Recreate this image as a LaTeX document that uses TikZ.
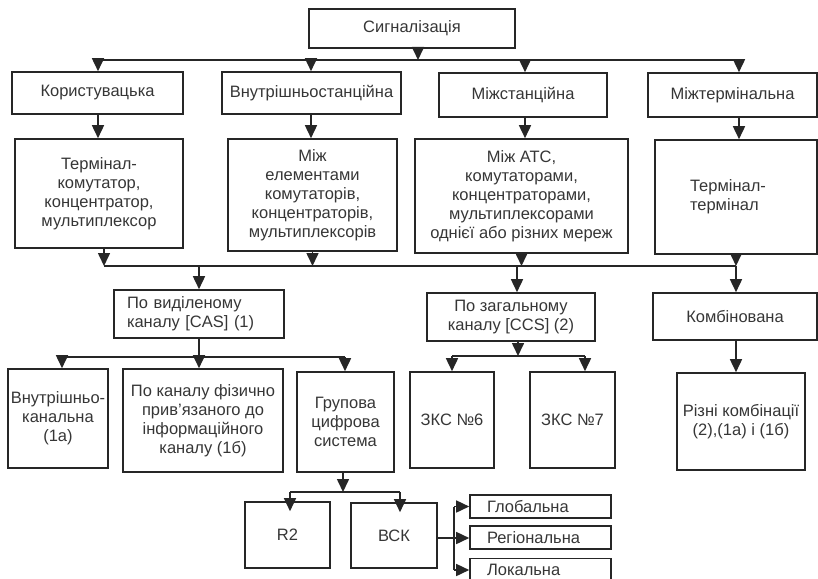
\documentclass[tikz,border=0pt]{standalone}
\usepackage{fontspec}
\setmainfont{Liberation Sans}
\usetikzlibrary{arrows.meta}
\usetikzlibrary{positioning}
\definecolor{linegray}{HTML}{262626}
\definecolor{textgray}{HTML}{363636}
\tikzstyle{block} = [draw=linegray, rectangle, line width=1.6pt, text=textgray,
 inner sep=0pt, align=center, font=\fontsize{16.5pt}{19pt}\selectfont]
\tikzstyle{arrow} = [draw=linegray, line width=1.6pt, -{Triangle[length=13pt, width=12pt]}]
\tikzstyle{line} = [draw=linegray, line width=1.6pt, -]

\begin{document}
\begin{tikzpicture}[x=1pt, y=-1pt]
 	\useasboundingbox (0,0) rectangle (818,578);
 	\clip (0,0) rectangle (818,578);
 	
 	% kinds of signalling
 	\node [block, minimum width=206, minimum height=39] (sig) at (412,28.5) {Сигналізація};
 	\node [block, minimum width=171, minimum height=42] (user) at (97.5,93) {Користувацька};
 	\node [block, minimum width=179, minimum height=42] (intra) at (311.5,93) {Внутрішньостанційна};
 	\node [block, minimum width=168, minimum height=44] (inter) at (523,95) {Міжстанційна};
 	\node [block, minimum width=169, minimum height=44] (term) at (732.5,95) {Міжтермінальна};
 	
 	\node [block, minimum width=168, minimum height=109] (ut) at (99,193.5)
 	  {Термінал-\\комутатор,\\концентратор,\\мультиплексор};
 	\node [block, minimum width=169, minimum height=112] (ie) at (312.5,195)
 	  {Між\\елементами\\комутаторів,\\концентраторів,\\мультиплексорів};
 	\node [block, minimum width=213, minimum height=114] (atc) at (521.5,196)
 	  {Між АТС,\\комутаторами,\\концентраторами,\\мультиплексорами\\однієї або різних мереж};
 	\node [block, minimum width=162, minimum height=114, text width=92, align=left] (tt) at (736,197)
 	  {Термінал-\\термінал};
 	
 	% channel types
 	\node [block, minimum width=170, minimum height=48, text width=144, align=left] (cas) at (199,314)
 	  {По виділеному\\каналу [CAS] (1)};
 	\node [block, minimum width=168, minimum height=48] (ccs) at (511,317)
 	  {По загальному\\каналу [CCS] (2)};
 	\node [block, minimum width=164, minimum height=47] (comb) at (735,316.5) {Комбінована};
 	
 	\node [block, minimum width=100, minimum height=99] (inch) at (58,418.5)
 	  {Внутрішньо-\\канальна\\(1а)};
 	\node [block, minimum width=160, minimum height=103] (phys) at (203,420.5)
 	  {По каналу фізично\\прив'язаного до\\інформаційного\\каналу (1б)};
 	\node [block, minimum width=97, minimum height=100] (grp) at (345.5,422)
 	  {Групова\\цифрова\\система};
 	\node [block, minimum width=84, minimum height=96] (zks6) at (452,420) {ЗКС №6};
 	\node [block, minimum width=85, minimum height=96] (zks7) at (572.5,420) {ЗКС №7};
 	\node [block, minimum width=128, minimum height=97] (mix) at (741,421.5)
 	  {Різні комбінації\\(2),(1а) і (1б)};
 	
 	\node [block, minimum width=85, minimum height=66] (r2) at (287.5,535) {R2};
 	\node [block, minimum width=86, minimum height=65] (bsk) at (394,535.5) {ВСК};
 	\node [block, minimum width=141, minimum height=23, text width=107, align=left] (glob) at (540.5,506.5) {Глобальна};
 	\node [block, minimum width=141, minimum height=23, text width=107, align=left] (reg) at (540.5,537.5) {Регіональна};
 	\node [block, minimum width=141, minimum height=23, text width=107, align=left] (loc) at (540.5,570) {Локальна};
 	
 	% branch points
 	\node [coordinate] (t0) at (418,60) {};
 	\node [coordinate] (t1) at (98,60) {};
 	\node [coordinate] (t2) at (311,60) {};
 	\node [coordinate] (t3) at (525,60) {};
 	\node [coordinate] (t4) at (739,60) {};
 	\node [coordinate] (b1l) at (104,266) {};
 	\node [coordinate] (b1c) at (517,266) {};
 	\node [coordinate] (b1r) at (736,266) {};
 	\node [coordinate] (b2l) at (62,357) {};
 	\node [coordinate] (b2r) at (345,357) {};
 	\node [coordinate] (b3c) at (518,356) {};
 	\node [coordinate] (b3l) at (452,356) {};
 	\node [coordinate] (b3r) at (585,356) {};
 	\node [coordinate] (b4l) at (290,492) {};
 	\node [coordinate] (b4r) at (400,492) {};
 	\node [coordinate] (b5) at (454,538) {};
 	
 	\draw [arrow] (sig.south -| t0) -- (t0);
 	\draw [line] (t1) -- (t4);
 	\draw [arrow] (t1) -- (t1 |- user.north);
 	\draw [arrow] (t2) -- (t2 |- intra.north);
 	\draw [arrow] (t3) -- (t3 |- inter.north);
 	\draw [arrow] (t4) -- (t4 |- term.north);
 	
 	\draw [arrow] (t1 |- user.south) -- (t1 |- ut.north);
 	\draw [arrow] (t2 |- intra.south) -- (t2 |- ie.north);
 	\draw [arrow] (t3 |- inter.south) -- (t3 |- atc.north);
 	\draw [arrow] (t4 |- term.south) -- (t4 |- tt.north);
 	
 	\draw [line] (b1l) -- (b1r);
 	\draw [arrow] (b1l |- ut.south) -- (b1l);
 	\draw [arrow] (ie.south) -- (ie.south |- b1l);
 	\draw [arrow] (atc.south) -- (atc.south |- b1l);
 	\draw [arrow] (b1r |- tt.south) -- (b1r);
 	\draw [arrow] (cas.north |- b1l) -- (cas.north);
 	\draw [arrow] (b1c) -- (b1c |- ccs.north);
 	\draw [arrow] (b1r) -- (b1r |- comb.north);
 	
 	\draw [arrow] (cas.south) -- (cas.south |- phys.north);
 	\draw [line] (b2l) -- (b2r);
 	\draw [arrow] (b2l) -- (b2l |- inch.north);
 	\draw [arrow] (b2r) -- (b2r |- grp.north);
 	
 	\draw [arrow] (b3c |- ccs.south) -- (b3c);
 	\draw [line] (b3l) -- (b3r);
 	\draw [arrow] (b3l) -- (zks6.north);
 	\draw [arrow] (b3r) -- (b3r |- zks7.north);
 	
 	\draw [arrow] (b1r |- comb.south) -- (b1r |- mix.north);
 	
 	\draw [arrow] (grp.south -| 343,0) -- (343,492);
 	\draw [line] (b4l) -- (b4r);
 	\draw [arrow, shorten >=-10pt] (b4l) -- (b4l |- r2.north);
 	\draw [arrow, shorten >=-10pt] (b4r) -- (b4r |- bsk.north);
 	
 	\draw [line] (b5 -| bsk.east) -- (b5);
 	\draw [line] (b5 |- glob.west) -- (b5 |- loc.west);
 	\draw [arrow] (b5 |- glob.west) -- (glob.west);
 	\draw [arrow] (b5) -- (b5 -| reg.west);
 	\draw [arrow] (b5 |- loc.west) -- (loc.west);
 	
\end{tikzpicture}
\end{document}
